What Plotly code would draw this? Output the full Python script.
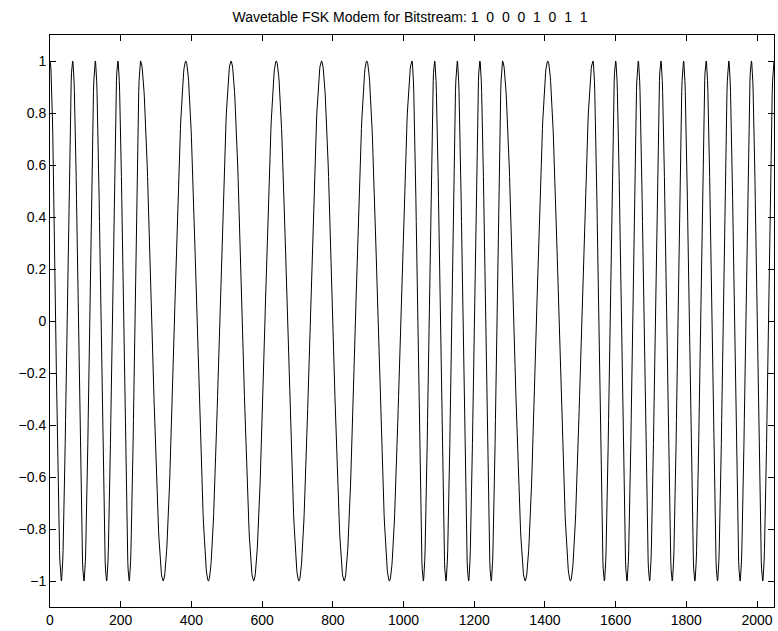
import numpy as np
import plotly.graph_objects as go

# Data: bitstream and FSK parameters
bits = [1, 0, 0, 0, 1, 0, 1, 1]
samples_per_bit = 256
period_for_bit = {1: 64, 0: 128}   # samples per cycle
x_ticks = [0, 200, 400, 600, 800, 1000, 1200, 1400, 1600, 1800, 2000]
y_ticks = [-1, -0.8, -0.6, -0.4, -0.2, 0, 0.2, 0.4, 0.6, 0.8, 1]

# Build the continuous-phase FSK signal from the bitstream (wavetable lookup)
phase_inc = np.repeat([2 * np.pi / period_for_bit[b] for b in bits], samples_per_bit)
phase = np.concatenate([[0.0], np.cumsum(phase_inc)])
n = np.arange(len(phase))
signal = np.cos(phase)

fig = go.Figure()
fig.add_trace(go.Scatter(x=n, y=signal, mode="lines",
                         line=dict(color="black", width=1), hoverinfo="skip"))

title = "Wavetable FSK Modem for Bitstream: " + "  ".join(str(b) for b in bits)
font_family = "Liberation Sans, Arial, Helvetica"
axis_common = dict(showline=True, linecolor="black", linewidth=1, mirror="ticks",
                   ticks="inside", ticklen=6, tickcolor="black", showgrid=False,
                   zeroline=False, tickfont=dict(family=font_family, size=14, color="black"))
fig.update_layout(
    width=778, height=631,
    margin=dict(l=50, r=4, t=35, b=24),
    paper_bgcolor="white", plot_bgcolor="white",
    showlegend=False,
    title=dict(text=title, x=0.527, xanchor="center", y=0.973, yanchor="middle",
               font=dict(family=font_family, size=14, color="black")),
    xaxis=dict(range=[0, 2048], tickvals=x_ticks, ticktext=[str(v) for v in x_ticks], **axis_common),
    yaxis=dict(range=[-1.1, 1.1], tickvals=y_ticks,
               ticktext=[("\u2212" if v < 0 else "") + ("%g" % abs(v)) for v in y_ticks], **axis_common),
)
fig.write_html("out.html")
